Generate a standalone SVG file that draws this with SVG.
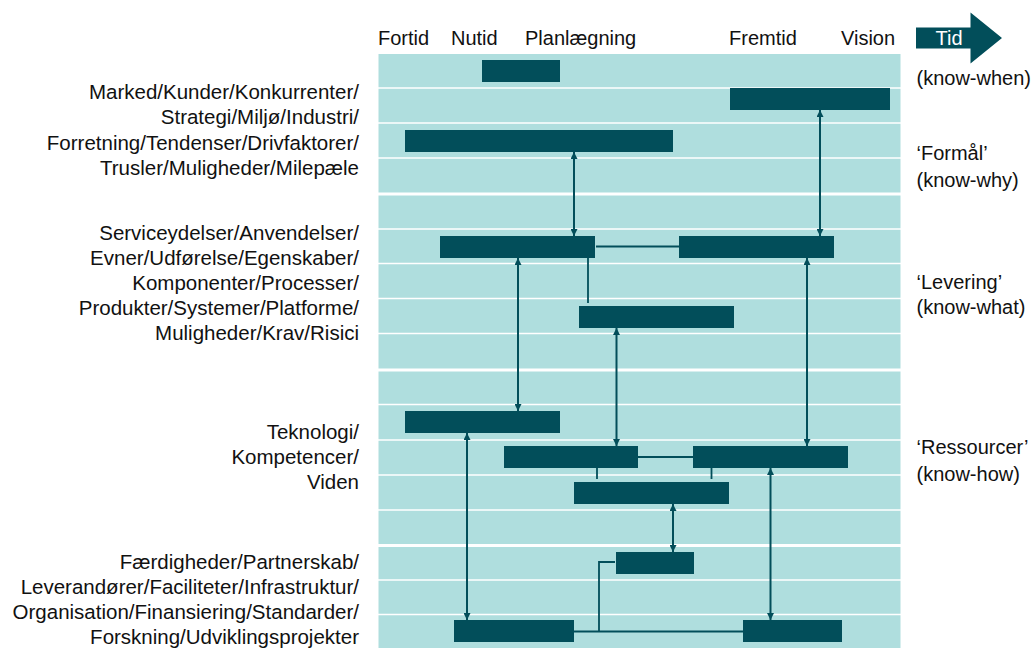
<svg xmlns="http://www.w3.org/2000/svg" width="1035" height="648" viewBox="0 0 1035 648">
  <style>
    .band { fill: #AFDEDE; }
    .sep { stroke: #FFFFFF; stroke-width: 1.6; }
    .gap { stroke: #FFFFFF; stroke-width: 3; }
    .bar { fill: #024E5A; }
    .txt { font-family: "Liberation Sans", Arial, sans-serif; font-size: 20px; fill: #111111; }
    .lbl { font-family: "Liberation Sans", Arial, sans-serif; font-size: 20.5px; fill: #111111; text-anchor: end; }
    .arrow { stroke: #024E5A; stroke-width: 2; fill: none; marker-start: url(#head); marker-end: url(#head); }
    .link { stroke: #024E5A; stroke-width: 1.8; fill: none; }
  </style>
  <defs>
    <marker id="head" viewBox="0 0 7 7" refX="7" refY="3.5" markerWidth="7" markerHeight="7" markerUnits="userSpaceOnUse" orient="auto-start-reverse">
      <path d="M0,0 L7,3.5 L0,7 z" fill="#024E5A"/>
    </marker>
  </defs>

  <!-- timeline background with row separators -->
  <g id="grid">
    <rect class="band" x="378.5" y="54" width="522" height="594"/>
    <g>
      <line class="sep" x1="378" x2="901" y1="88" y2="88"/>
      <line class="sep" x1="378" x2="901" y1="123" y2="123"/>
      <line class="sep" x1="378" x2="901" y1="158" y2="158"/>
      <line class="gap" x1="378" x2="901" y1="194" y2="194"/>
      <line class="sep" x1="378" x2="901" y1="229" y2="229"/>
      <line class="sep" x1="378" x2="901" y1="263.5" y2="263.5"/>
      <line class="sep" x1="378" x2="901" y1="298.5" y2="298.5"/>
      <line class="sep" x1="378" x2="901" y1="333.5" y2="333.5"/>
      <line class="gap" x1="378" x2="901" y1="370" y2="370"/>
      <line class="sep" x1="378" x2="901" y1="404.5" y2="404.5"/>
      <line class="sep" x1="378" x2="901" y1="440" y2="440"/>
      <line class="sep" x1="378" x2="901" y1="475" y2="475"/>
      <line class="sep" x1="378" x2="901" y1="510" y2="510"/>
      <line class="gap" x1="378" x2="901" y1="545.5" y2="545.5"/>
      <line class="sep" x1="378" x2="901" y1="580" y2="580"/>
      <line class="sep" x1="378" x2="901" y1="614.5" y2="614.5"/>
    </g>
  </g>

  <!-- time axis headings -->
  <g id="axis">
    <text class="txt" x="378" y="45">Fortid</text>
    <text class="txt" x="451" y="45">Nutid</text>
    <text class="txt" x="525" y="45">Planlægning</text>
    <text class="txt" x="729" y="45">Fremtid</text>
    <text class="txt" x="841" y="45">Vision</text>
  </g>

  <g id="tid">
    <polygon points="916,27.5 970.5,27.5 970.5,12.5 1002,38 970.5,63.5 970.5,48.5 916,48.5" fill="#024E5A"/>
    <text class="txt" x="949" y="45" text-anchor="middle" style="fill:#FFFFFF">Tid</text>
  </g>

  <!-- layer labels, left -->
  <g id="layer-purpose">
    <text class="lbl" x="359" y="99">Marked/Kunder/Konkurrenter/</text>
    <text class="lbl" x="359" y="124">Strategi/Miljø/Industri/</text>
    <text class="lbl" x="359" y="149.5">Forretning/Tendenser/Drivfaktorer/</text>
    <text class="lbl" x="359" y="175">Trusler/Muligheder/Milepæle</text>
  </g>
  <g id="layer-delivery">
    <text class="lbl" x="359" y="240">Serviceydelser/Anvendelser/</text>
    <text class="lbl" x="359" y="265">Evner/Udførelse/Egenskaber/</text>
    <text class="lbl" x="359" y="290">Komponenter/Processer/</text>
    <text class="lbl" x="359" y="315">Produkter/Systemer/Platforme/</text>
    <text class="lbl" x="359" y="340">Muligheder/Krav/Risici</text>
  </g>
  <g id="layer-resources">
    <text class="lbl" x="359" y="439">Teknologi/</text>
    <text class="lbl" x="359" y="464">Kompetencer/</text>
    <text class="lbl" x="359" y="489">Viden</text>
  </g>
  <g id="layer-base">
    <text class="lbl" x="359" y="569">Færdigheder/Partnerskab/</text>
    <text class="lbl" x="359" y="594">Leverandører/Faciliteter/Infrastruktur/</text>
    <text class="lbl" x="359" y="619">Organisation/Finansiering/Standarder/</text>
    <text class="lbl" x="359" y="644">Forskning/Udviklingsprojekter</text>
  </g>

  <!-- layer labels, right -->
  <g id="know-labels">
    <text class="txt" x="916.5" y="85">(know-when)</text>
    <text class="txt" x="916.5" y="160">‘Formål’</text>
    <text class="txt" x="916.5" y="187">(know-why)</text>
    <text class="txt" x="916.5" y="289">‘Levering’</text>
    <text class="txt" x="916.5" y="314">(know-what)</text>
    <text class="txt" x="916.5" y="454">‘Ressourcer’</text>
    <text class="txt" x="916.5" y="481">(know-how)</text>
  </g>

  <!-- roadmap bars -->
  <g id="bar-p1"><rect class="bar" x="482" y="60" width="78" height="22"/></g>
  <g id="bar-p2"><rect class="bar" x="730" y="88" width="160" height="22"/></g>
  <g id="bar-p3"><rect class="bar" x="405" y="130" width="268" height="22"/></g>
  <g id="bar-d1"><rect class="bar" x="440" y="236" width="155" height="22"/></g>
  <g id="bar-d2"><rect class="bar" x="679" y="236" width="155" height="22"/></g>
  <g id="bar-d3"><rect class="bar" x="579" y="306" width="155" height="22"/></g>
  <g id="bar-r1"><rect class="bar" x="405" y="411" width="155" height="22"/></g>
  <g id="bar-r2"><rect class="bar" x="504" y="446" width="134" height="22"/></g>
  <g id="bar-r3"><rect class="bar" x="693" y="446" width="155" height="22"/></g>
  <g id="bar-r4"><rect class="bar" x="574" y="482" width="155" height="22"/></g>
  <g id="bar-b1"><rect class="bar" x="616" y="552" width="78" height="22"/></g>
  <g id="bar-b2"><rect class="bar" x="454" y="620" width="120" height="22"/></g>
  <g id="bar-b3"><rect class="bar" x="743" y="620" width="99" height="22"/></g>

  <!-- connectors -->
  <g id="connectors">
    <line class="arrow" x1="574" y1="152" x2="574" y2="236"/>
    <line class="arrow" x1="820" y1="110" x2="820" y2="236"/>
    <line class="arrow" x1="518" y1="258" x2="518" y2="411"/>
    <line class="arrow" x1="616.5" y1="328" x2="616.5" y2="446"/>
    <line class="arrow" x1="807" y1="258" x2="807" y2="446"/>
    <line class="arrow" x1="467" y1="433" x2="467" y2="620"/>
    <line class="arrow" x1="673" y1="504" x2="673" y2="552"/>
    <line class="arrow" x1="770.5" y1="468" x2="770.5" y2="620"/>
    <line class="link" x1="596" y1="246.5" x2="679" y2="246.5"/>
    <line class="link" x1="588" y1="258" x2="588" y2="303"/>
    <line class="link" x1="638" y1="457" x2="693" y2="457"/>
    <line class="link" x1="597" y1="468" x2="597" y2="479"/>
    <line class="link" x1="711.5" y1="468" x2="711.5" y2="479"/>
    <polyline class="link" points="615,562 599,562 599,632"/>
    <line class="link" x1="574" y1="631.5" x2="743" y2="631.5"/>
  </g>
</svg>
